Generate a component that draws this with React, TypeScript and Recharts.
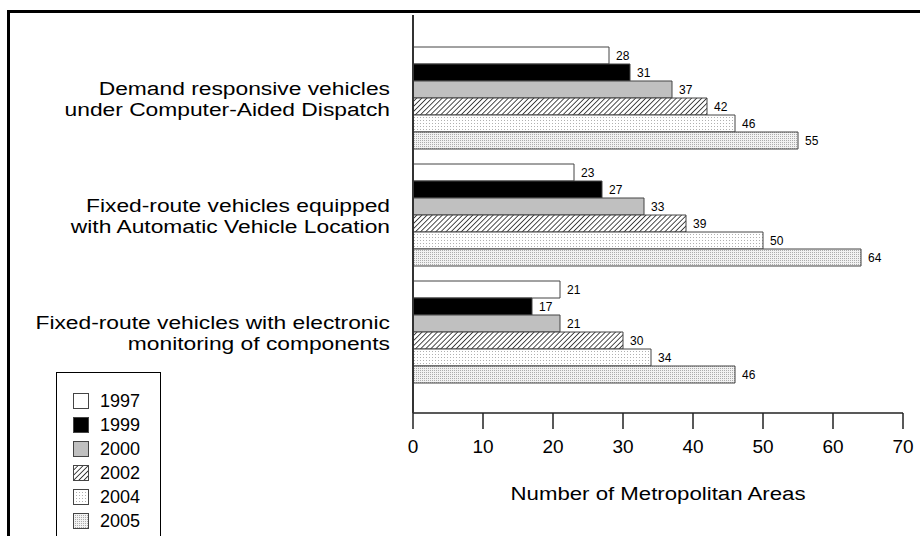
import React from "react";
import { BarChart, Bar, XAxis, YAxis, Legend, LabelList } from "recharts";

const categoryLine1 = [
  "Demand responsive vehicles",
  "Fixed-route vehicles equipped",
  "Fixed-route vehicles with electronic",
];
const categoryLine2 = [
  "under Computer-Aided Dispatch",
  "with Automatic Vehicle Location",
  "monitoring of components",
];
const years = ["1997", "1999", "2000", "2002", "2004", "2005"];
const v1997 = [28, 23, 21];
const v1999 = [31, 27, 17];
const v2000 = [37, 33, 21];
const v2002 = [42, 39, 30];
const v2004 = [46, 50, 34];
const v2005 = [55, 64, 46];
const xTicks = [0, 10, 20, 30, 40, 50, 60, 70];
const axisTitle = "Number of Metropolitan Areas";

const seriesValues = [v1997, v1999, v2000, v2002, v2004, v2005];
const fills = ["#ffffff", "#000000", "#c0c0c0", "url(#hatch)", "url(#dots1)", "url(#dots2)"];

const data = categoryLine1.map((c, i) => {
  const row: any = { name: c };
  years.forEach((y, k) => {
    row["y" + y] = seriesValues[k][i];
  });
  return row;
});

const FONT = "'Liberation Sans', Arial, sans-serif";

const CategoryTick = (props: any) => {
  const { y, payload, index } = props;
  return (
    <g transform={`translate(390, ${y}) scale(1.2, 1)`}>
      <text x={0} y={0} textAnchor="end" fontSize={19} fontFamily={FONT} fill="#000">
        <tspan x={0} dy={-3}>{payload.value}</tspan>
        <tspan x={0} dy={22}>{categoryLine2[index]}</tspan>
      </text>
    </g>
  );
};

const AxisTitle = (props: any) => {
  const vb = props.viewBox || {};
  const cx = vb.x + vb.width / 2;
  const by = vb.y + vb.height - 36;
  return (
    <g transform={`translate(${cx}, ${by}) scale(1.17, 1)`}>
      <text x={0} y={0} textAnchor="middle" fontSize={19} fontFamily={FONT} fill="#000">
        {axisTitle}
      </text>
    </g>
  );
};

const LegendBox = () => (
  <div
    style={{
      width: 105,
      height: 170,
      border: "1px solid #000",
      background: "#fff",
      boxSizing: "border-box",
      paddingTop: 16,
      fontFamily: FONT,
      fontSize: 18,
    }}
  >
    {years.map((y, k) => (
      <div key={y} style={{ display: "flex", alignItems: "center", height: 24, marginLeft: 16 }}>
        <svg width={16} height={16} style={{ display: "block" }}>
          <rect x={0.5} y={0.5} width={15} height={15} fill={fills[k]} stroke="#444" strokeWidth={1} />
        </svg>
        <span style={{ marginLeft: 11, lineHeight: "24px" }}>{y}</span>
      </div>
    ))}
  </div>
);

export default function App() {
  return (
    <div style={{ position: "absolute", left: 0, top: 0, width: 920, height: 536, background: "#fff", overflow: "hidden" }}>
      <div
        style={{
          position: "absolute",
          left: 7,
          top: 10,
          width: 913,
          height: 526,
          borderTop: "3px solid #000",
          borderLeft: "3px solid #000",
          boxSizing: "border-box",
        }}
      />
      <BarChart
        width={920}
        height={536}
        data={data}
        layout="vertical"
        margin={{ top: 15, right: 17, left: 0, bottom: 0 }}
        barCategoryGap={8}
        barGap={0}
        style={{ position: "absolute", left: 0, top: 0, fontFamily: FONT }}
      >
        <defs>
          <pattern id="hatch" patternUnits="userSpaceOnUse" width={3.6} height={3.6} patternTransform="rotate(45)">
            <rect width={3.6} height={3.6} fill="#fff" />
            <line x1={0} y1={0} x2={0} y2={3.6} stroke="#000" strokeWidth={1.4} />
          </pattern>
          <pattern id="dots1" patternUnits="userSpaceOnUse" width={3} height={3}>
            <rect width={3} height={3} fill="#fff" />
            <rect x={0} y={0} width={1} height={1} fill="#b0b0b0" />
          </pattern>
          <pattern id="dots2" patternUnits="userSpaceOnUse" width={2} height={2}>
            <rect width={2} height={2} fill="#f2f2f2" />
            <rect x={0} y={0} width={1} height={1} fill="#acacac" />
          </pattern>
        </defs>
        <XAxis
          type="number"
          domain={[0, 70]}
          ticks={xTicks}
          height={123}
          tickSize={16}
          tickMargin={11}
          axisLine={{ stroke: "#222", strokeWidth: 1.5 }}
          tickLine={{ stroke: "#222", strokeWidth: 1.5 }}
          tick={{ fontSize: 19, fill: "#000", fontFamily: FONT }}
          label={<AxisTitle />}
        />
        <YAxis
          type="category"
          dataKey="name"
          width={413}
          padding={{ top: 24, bottom: 23 }}
          axisLine={{ stroke: "#333", strokeWidth: 2 }}
          tickLine={false}
          tick={<CategoryTick />}
        />
        <Legend
          layout="horizontal"
          verticalAlign="middle"
          align="center"
          content={<LegendBox />}
          wrapperStyle={{ position: "absolute", left: 56, top: 372, width: 105, height: 170 }}
        />
        {years.map((y, k) => (
          <Bar
            key={y}
            dataKey={"y" + y}
            name={y}
            fill={fills[k]}
            stroke="#444"
            strokeWidth={1}
            isAnimationActive={false}
          >
            <LabelList dataKey={"y" + y} position="right" offset={7} fontSize={12} fill="#000" fontFamily={FONT} />
          </Bar>
        ))}
      </BarChart>
    </div>
  );
}
